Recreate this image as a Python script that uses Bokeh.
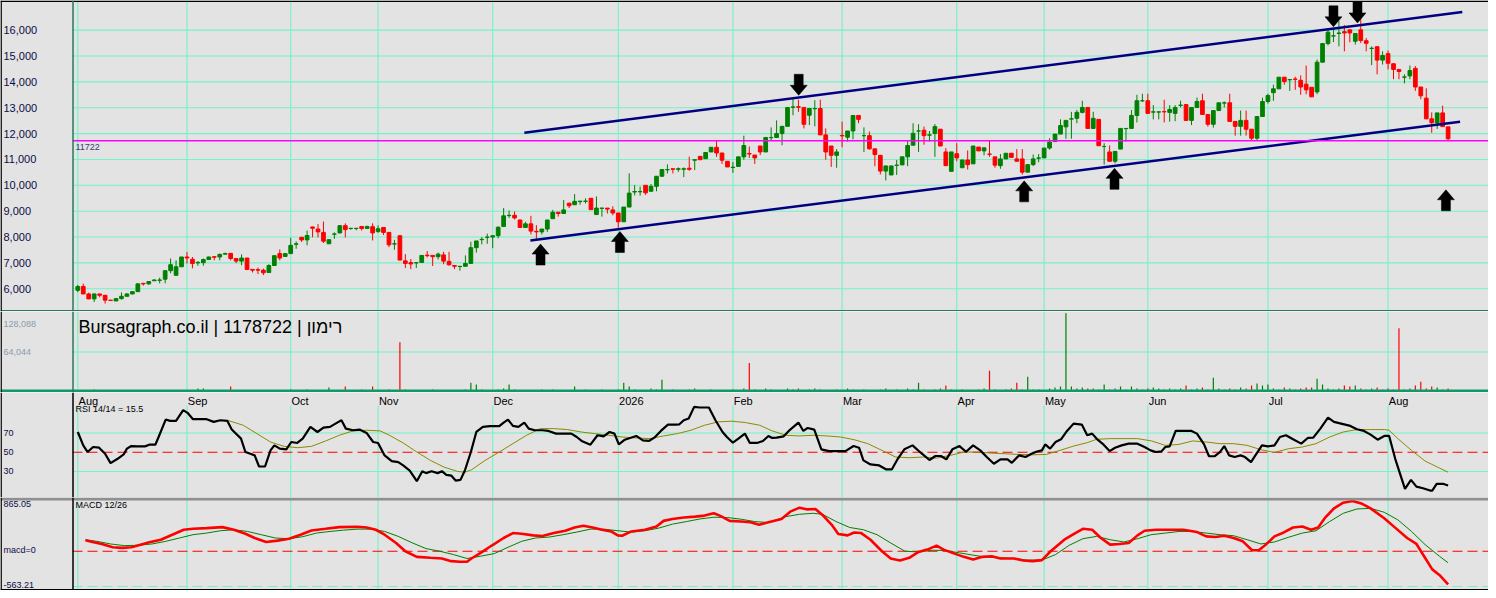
from bokeh.plotting import figure
from bokeh.layouts import column
from bokeh.models import Range1d, Span, Label, LabelSet, ColumnDataSource
from bokeh.core.properties import value
from bokeh.embed import file_html
from bokeh.resources import INLINE

# ------------------------------------------------------------------ data
opens = [
    5940, 6090, 5800, 5610, 5800, 5750, 5560, 5530, 5620, 5710,
    5800, 5890, 6210, 6190, 6310, 6330, 6370, 6700, 6520, 6850,
    7230, 7140, 7000, 7010, 7130, 7240, 7230, 7340, 7370, 7170,
    7070, 7190, 6750, 6740, 6720, 6630, 6900, 7360, 7250, 7360,
    7720, 7990, 7890, 8390, 8310, 8180, 7740, 8110, 8160, 8440,
    8330, 8330, 8410, 8330, 8400, 8210, 8370, 8180, 7730, 8050,
    7080, 7010, 7000, 7020, 7300, 7290, 7240, 7310, 7060, 6900,
    6860, 6870, 6980, 7590, 7900, 7990, 8000, 8050, 8410, 8830,
    8840, 8660, 8370, 8510, 8220, 8200, 8310, 8710, 8960, 8910,
    9310, 9250, 9370, 9380, 9500, 8870, 9110, 9120, 9050, 8930,
    8590, 9160, 9740, 9750, 10000, 9770, 9960, 10350, 10600, 10640,
    10620, 10620, 10660, 10970, 11120, 11030, 11290, 11470, 11250, 10930,
    10690, 10730, 11100, 11230, 11170, 11520, 11290, 11840, 11850, 12000,
    12280, 13020, 13040, 13010, 12710, 12960, 12970, 11950, 11520, 11160,
    11930, 11860, 12100, 12700, 11920, 11920, 11410, 11160, 10550, 10400,
    10770, 10790, 11100, 11550, 12100, 12130, 11940, 12000, 12170, 11290,
    10540, 11220, 10680, 10980, 10830, 11480, 11330, 11210, 11100, 10760,
    11020, 11240, 11020, 11020, 10510, 10800, 11050, 11060, 11440, 11690,
    11980, 12260, 12560, 12590, 12820, 13010, 12200, 12550, 11500, 11290,
    10930, 11400, 12190, 12200, 12700, 13270, 13270, 12830, 12830, 12850,
    12820, 12780, 13090, 13120, 12510, 13010, 13270, 12740, 12360, 12890,
    13180, 13190, 12470, 12280, 12510, 12170, 11820, 12660, 13240, 13580,
    13730, 14180, 14080, 14110, 14060, 13910, 13790, 13610, 14760, 15480,
    15770, 15870, 15940, 16010, 15570, 16010, 15590, 15290, 15360, 14840,
    15090, 14700, 14480, 14180, 14230, 14520, 13800, 13370, 12570, 12410,
    12800, 12260]
highs = [
    6150, 6200, 5850, 5820, 5810, 5760, 5560, 5640, 5860, 5830,
    5900, 6200, 6230, 6290, 6370, 6430, 6700, 7170, 7100, 7230,
    7420, 7230, 7070, 7170, 7240, 7250, 7360, 7400, 7380, 7180,
    7330, 7190, 6750, 6820, 6780, 6950, 7290, 7520, 7370, 7970,
    7830, 8010, 8250, 8400, 8500, 8600, 7910, 8180, 8460, 8530,
    8350, 8350, 8420, 8440, 8530, 8450, 8380, 8190, 7890, 8050,
    7340, 7150, 7010, 7290, 7460, 7290, 7400, 7430, 7430, 6910,
    6880, 7290, 7820, 7850, 8000, 8130, 8050, 8410, 9120, 9030,
    8990, 8660, 8590, 8820, 8460, 8310, 8660, 9050, 8960, 9430,
    9320, 9660, 9390, 9500, 9500, 9570, 9120, 9120, 9190, 8930,
    9160, 10460, 10010, 9950, 10000, 10050, 10350, 10610, 10810, 10640,
    10690, 10690, 11110, 10990, 11120, 11280, 11470, 11720, 11250, 10930,
    10900, 11100, 11920, 11500, 11170, 11520, 11850, 12240, 12510, 12280,
    13010, 13380, 13310, 13010, 12970, 13290, 13310, 12200, 11520, 11400,
    12460, 12100, 12700, 12700, 12240, 12080, 11410, 11160, 10750, 10750,
    10980, 11100, 11730, 12400, 12360, 12270, 12100, 12370, 12170, 11440,
    11290, 11630, 10980, 11350, 11520, 11480, 11450, 11720, 11100, 11210,
    11240, 11240, 11400, 11400, 10800, 11190, 11210, 11440, 11820, 11980,
    12550, 12510, 12840, 12910, 13270, 13010, 12840, 12550, 11630, 11540,
    11310, 12200, 12200, 12910, 13500, 13540, 13540, 13100, 12840, 13310,
    13100, 13100, 13270, 13120, 13010, 13390, 13540, 12740, 12890, 13190,
    13240, 13540, 12470, 12890, 12890, 12170, 12660, 13390, 13540, 13890,
    14180, 14180, 14100, 14200, 14250, 14630, 13790, 14860, 15480, 16010,
    16080, 16370, 16200, 16010, 15870, 16520, 15690, 15370, 15360, 15180,
    15210, 14700, 14480, 14290, 14630, 14610, 13800, 13750, 12820, 12800,
    13080, 12260]
lows = [
    5870, 5800, 5600, 5490, 5670, 5430, 5540, 5530, 5580, 5700,
    5790, 5880, 6120, 6150, 6300, 6210, 6210, 6600, 6520, 6850,
    6980, 6790, 6890, 6890, 7120, 7100, 7100, 7330, 7100, 6990,
    6910, 6720, 6630, 6570, 6530, 6620, 6880, 7100, 7240, 7360,
    7550, 7810, 7680, 7990, 7990, 7770, 7730, 7930, 8140, 7990,
    8280, 8260, 8250, 8310, 7870, 8170, 8080, 7610, 7510, 7110,
    6800, 6760, 6800, 7010, 7210, 6880, 7130, 6950, 6890, 6760,
    6700, 6870, 6980, 7400, 7720, 7740, 7570, 7950, 8410, 8740,
    8680, 8370, 8370, 8100, 7910, 8100, 8200, 8710, 8790, 8910,
    9120, 9250, 9250, 9300, 9060, 8870, 8790, 8910, 8840, 8360,
    8590, 9160, 9610, 9600, 9630, 9770, 9770, 10350, 10460, 10460,
    10520, 10320, 10560, 10590, 10990, 11030, 11290, 11100, 10830, 10710,
    10480, 10730, 10990, 11060, 10830, 11170, 11290, 11720, 11850, 11550,
    12280, 12710, 12840, 12200, 12330, 12280, 11950, 10990, 10710, 10680,
    11470, 11690, 11780, 12400, 11290, 11380, 10740, 10420, 10190, 10400,
    10400, 10790, 10740, 11550, 11290, 11570, 11690, 11100, 11520, 10760,
    10540, 10930, 10680, 10610, 10830, 11330, 11160, 11100, 10680, 10640,
    11020, 11080, 10930, 10420, 10510, 10740, 10890, 11060, 11380, 11690,
    11980, 11800, 11800, 12400, 12780, 12200, 12180, 11530, 10800, 10930,
    10850, 11400, 11690, 12200, 12430, 13220, 12780, 12550, 12550, 12430,
    12460, 12480, 13010, 12510, 12330, 13010, 12740, 12270, 12230, 12890,
    13010, 12470, 11920, 11920, 11920, 11750, 11750, 12660, 13160, 13270,
    13730, 13890, 13650, 13690, 13500, 13520, 13420, 13520, 14760, 15410,
    15540, 15370, 15180, 15530, 15440, 15500, 15180, 14650, 14290, 14670,
    14480, 14100, 14100, 13940, 14100, 13650, 13330, 12570, 12030, 12180,
    12270, 11720]
closes = [
    6090, 5800, 5610, 5800, 5750, 5560, 5550, 5620, 5710, 5800,
    5890, 6190, 6190, 6280, 6340, 6340, 6700, 6930, 6850, 7230,
    7190, 6980, 7020, 7130, 7230, 7220, 7330, 7360, 7170, 7070,
    7190, 6750, 6720, 6720, 6620, 6900, 7280, 7190, 7360, 7680,
    7740, 7890, 8060, 8340, 8200, 7840, 7900, 8120, 8440, 8290,
    8340, 8340, 8330, 8410, 8160, 8320, 8180, 7700, 7740, 7110,
    6980, 6960, 7010, 7290, 7280, 7240, 7340, 7070, 6930, 6870,
    6870, 6980, 7590, 7850, 7910, 8000, 8050, 8380, 8820, 8840,
    8740, 8370, 8510, 8230, 8200, 8310, 8660, 8960, 8910, 9050,
    9210, 9380, 9390, 9390, 9060, 9120, 9120, 9080, 8930, 8590,
    9160, 9700, 9760, 9760, 9710, 9960, 10350, 10610, 10610, 10620,
    10640, 10640, 10620, 10990, 10990, 11270, 11470, 11250, 10970, 10710,
    10700, 11100, 11540, 11210, 11060, 11290, 11850, 11850, 12000, 12280,
    13010, 13030, 13020, 12360, 12970, 12970, 11950, 11290, 11160, 11290,
    11910, 12100, 12700, 12550, 11920, 11410, 11190, 10550, 10750, 10750,
    10780, 11100, 11540, 12010, 12100, 11920, 11950, 12270, 11520, 10760,
    11290, 11060, 10980, 10800, 11520, 11330, 11450, 11200, 10780, 11020,
    11240, 11080, 10930, 10510, 10800, 11020, 11060, 11440, 11670, 11980,
    12310, 12510, 12570, 12820, 13010, 12200, 12590, 11530, 11500, 10930,
    11310, 12200, 12200, 12700, 13270, 13270, 12780, 12840, 12840, 12840,
    12930, 13010, 13100, 12510, 13010, 13240, 12740, 12360, 12890, 13190,
    13190, 12470, 12280, 12510, 12170, 11820, 12660, 13240, 13470, 13730,
    14180, 14010, 14090, 14100, 13800, 13690, 13420, 14760, 15480, 15920,
    15780, 15890, 15890, 15890, 15870, 15600, 15490, 15300, 14840, 15020,
    14720, 14480, 14400, 14190, 14440, 13800, 13460, 12570, 12420, 12800,
    12270, 11800]
volumes = [
    2400, 1600, 1200, 3200, 800, 1600, 400, 800, 1200, 1600, 800, 2400, 1600, 1200, 800, 1600, 2400, 1600, 800, 1600, 1200,
    1600, 4800, 4800, 1600, 800, 1200, 1600, 8000, 1600, 1200, 800, 1600, 2400, 1600, 1200, 1600, 2400, 1600, 3200, 1600,
    1600, 3200, 1600, 2400, 1600, 6400, 2400, 1600, 8000, 2400, 1600, 3200, 2400, 8000, 1600, 2400, 3200, 2400,
    80000,
    3200, 2400, 1600, 2400, 1600, 3200, 1600, 2400, 1600, 2400, 1600, 3200, 14400, 11200, 3200, 2400,
    2400, 3200, 4800, 11200, 3200, 2400, 1600, 2400, 1600, 3200, 2400, 3200, 1600, 2400, 1600, 8000, 2400, 3200, 2400, 1600, 3200, 2400, 1600, 3200,
    14400, 8000, 3200, 2400, 1600, 4800, 3200, 19200, 2400, 3200, 1600, 2400, 3200, 4800, 2400, 1600, 3200, 2400, 1600, 2400, 3200, 2400, 4800,
    46400,
    3200, 2400, 4800, 3200, 2400, 1600, 4800, 3200, 4800, 2400, 3200, 4800, 3200, 2400, 1600, 3200, 2400, 4800, 3200, 2400, 3200, 1600, 2400, 3200, 4800, 2400, 3200, 1600, 4800,
    3200, 14400, 3200, 2400, 3200, 4800, 9600, 3200, 2400, 3200, 1600, 2400, 3200, 4800, 33600, 3200, 2400, 3200, 4800, 14400, 3200, 24000, 3200, 3200, 1600, 4800, 6400, 8000,
    127000,
    8000, 4800, 6400, 4800, 4800, 3200, 11200, 3200, 4800, 8000, 3200, 8000, 4800, 3200, 4800, 6400, 4800, 3200, 4800, 3200, 4800, 9600, 3200, 4800, 6400, 3200, 22400, 4800, 3200,
    4800, 3200, 6400, 4800, 9600, 12800, 9600, 11200, 4800, 3200, 6400, 4800, 3200, 4800, 6400, 6400, 20800, 11200, 4800, 3200, 4800, 9600, 8000, 9600, 4800, 3200, 4800, 6400, 3200, 4800, 3200,
    102400, 3200, 4800, 9600, 16000, 4800, 8000, 6400, 3200, 4800]

month_bars = [0, 20, 39, 55, 76, 99, 120, 140, 161, 177, 196, 218, 240]
month_labels = ["Aug", "Sep", "Oct", "Nov", "Dec", "2026", "Feb", "Mar", "Apr",
                "May", "Jun", "Jul", "Aug"]
price_ticks = [6000, 7000, 8000, 9000, 10000, 11000, 12000, 13000, 14000, 15000, 16000]
price_tick_labels = ["6,000", "7,000", "8,000", "9,000", "10,000", "11,000",
                     "12,000", "13,000", "14,000", "15,000", "16,000"]
last_price = 11722
vol_ticks = [64044, 128088]
vol_tick_labels = ["64,044", "128,088"]
rsi_grid = [30, 70]
rsi_ticks = [30, 50, 70]
macd_max, macd_min = 865.05, -563.21

# RSI 14 (black) read at picture vertices: bar position, value
rsi_x = [0.0, 1.0, 1.8, 2.8, 3.9, 5.0, 6.0, 7.3, 8.4, 9.0, 9.8, 11.0, 12.3, 13.1, 14.2, 14.8,
         16.1, 16.9, 18.0, 19.3, 20.1, 21.1, 23.6, 24.9, 26.1, 27.4, 28.2, 29.9, 30.7, 31.6,
         32.4, 33.2, 34.3, 35.3, 36.0, 37.0, 38.2, 39.1, 40.2, 41.2, 42.6, 43.9, 45.0, 46.2,
         47.2, 48.3, 49.1, 50.4, 51.6, 52.9, 54.1, 55.0, 56.2, 57.5, 58.7, 59.6, 60.8, 62.1,
         63.1, 63.8, 64.8, 65.9, 66.7, 67.5, 68.4, 69.2, 70.1, 70.9, 72.0, 73.0, 74.2, 75.5,
         77.2, 78.0, 78.8, 79.7, 80.7, 81.8, 82.6, 83.7, 85.1, 86.2, 87.6, 89.0, 90.4, 91.4,
         92.4, 93.9, 95.2, 96.3, 97.4, 98.3, 99.1, 100.2, 101.3, 102.3, 103.5, 104.6, 105.6,
         106.8, 108.1, 109.4, 110.2, 111.0, 111.9, 112.9, 113.9, 115.6, 116.8, 118.1, 118.9,
         120.0, 121.0, 122.2, 123.1, 124.4, 125.5, 126.5, 127.2, 128.0, 129.3, 130.5, 132.0,
         132.9, 133.7, 134.9, 136.2, 137.6, 138.9, 140.6, 142.1, 143.1, 143.9, 145.2, 146.8,
         148.1, 149.1, 150.2, 151.4, 152.9, 154.4, 156.0, 157.1, 158.1, 159.1, 160.2, 161.5,
         162.7, 164.0, 165.3, 166.5, 167.8, 169.0, 170.3, 171.1, 172.4, 173.6, 174.7, 175.7,
         176.6, 177.2, 178.1, 179.1, 180.1, 181.2, 182.4, 183.9, 184.9, 185.8, 186.8, 187.9,
         189.0, 190.0, 191.2, 192.5, 194.1, 195.4, 196.5, 197.5, 198.5, 199.2, 200.0, 201.1,
         202.5, 204.0, 205.0, 206.3, 207.2, 208.2, 209.2, 210.0, 210.9, 211.9, 213.0, 213.8,
         214.9, 215.7, 216.9, 218.0, 219.2, 220.2, 221.3, 222.6, 224.1, 225.3, 226.3, 227.6,
         229.0, 230.1, 231.4, 233.1, 234.3, 235.6, 236.8, 238.1, 239.3, 240.2, 241.4, 243.1,
         244.2, 245.2, 246.4, 247.7, 248.1, 248.9, 250.2, 251.0]
rsi_v = [71.0, 57.1, 50.2, 55.4, 54.7, 48.4, 38.7, 43.2, 47.7, 53.7, 56.4, 56.1, 56.1, 57.8, 57.8, 65.8,
         83.9, 82.5, 82.5, 93.7, 90.9, 84.3, 84.3, 81.5, 83.2, 82.5, 73.5, 64.1, 50.2, 48.4,
         46.7, 35.2, 35.2, 51.9, 57.1, 53.7, 53.0, 60.6, 59.6, 64.1, 76.3, 71.0, 75.6, 76.3,
         79.7, 83.2, 74.5, 72.8, 73.5, 70.0, 60.6, 59.6, 46.7, 40.8, 39.7, 36.3, 31.0, 19.9,
         30.3, 28.3, 30.3, 28.3, 30.3, 26.5, 25.8, 20.6, 21.3, 31.0, 50.2, 71.0, 76.3, 77.0,
         77.0, 80.8, 83.9, 77.3, 76.3, 80.8, 74.5, 72.8, 72.8, 72.1, 69.3, 69.3, 69.3, 65.8,
         61.3, 57.8, 67.6, 66.5, 71.0, 69.3, 58.1, 63.0, 65.1, 66.9, 62.3, 61.7, 65.1,
         72.1, 78.7, 78.7, 79.0, 83.2, 85.0, 97.1, 96.4, 96.4, 83.2, 71.0, 65.8,
         59.9, 64.1, 69.3, 59.6, 59.6, 61.7, 66.9, 64.8, 65.1, 66.5, 73.5, 80.8,
         72.1, 75.2, 73.5, 53.0, 51.2, 51.2, 51.2, 56.4, 54.7, 41.5, 37.3, 36.3,
         32.1, 32.1, 43.2, 53.0, 57.1, 49.5, 41.9, 46.1, 46.1, 42.6, 53.0, 56.4,
         50.5, 57.1, 51.9, 45.0, 38.0, 42.6, 42.6, 39.0, 46.7, 45.0, 48.4, 50.8,
         51.9, 58.1, 53.7, 60.6, 63.4, 72.1, 79.7, 78.7, 67.6, 69.3, 63.0, 57.8,
         51.2, 54.7, 57.1, 58.9, 58.9, 55.4, 51.9, 50.2, 50.9, 55.4, 56.1, 72.1,
         72.1, 72.1, 69.3, 58.1, 45.8, 45.8, 50.2, 56.4, 46.7, 45.0, 46.7, 45.0,
         39.7, 46.7, 57.1, 56.1, 57.1, 65.8, 67.6, 63.4, 58.9, 64.8, 65.1, 74.5,
         86.0, 81.5, 79.7, 77.3, 73.8, 72.1, 68.3, 63.0, 66.9, 66.9, 41.5, 11.9,
         21.3, 14.3, 12.6, 10.2, 10.2, 17.1, 17.1, 15.5]
# RSI average (olive)
rsi_avg_x = [27.4, 30.3, 32.8, 35.3, 37.8, 40.3, 42.8, 45.4, 47.9, 50.4, 52.9, 55.4, 57.1, 59.6,
             62.1, 64.6, 67.1, 69.6, 70.9, 72.1, 74.6, 77.2, 79.7, 82.2, 84.7, 87.2, 89.7, 92.2,
             94.7, 97.2, 99.7, 102.3, 104.8, 107.3, 109.8, 112.3, 114.8, 117.3, 119.8, 122.3,
             124.9, 127.2, 129.7, 132.2, 134.7, 137.2, 139.7, 142.2, 144.7, 147.3, 149.8, 152.3,
             154.8, 157.3, 159.8, 162.3, 164.8, 167.3, 169.9, 172.4, 174.9, 177.4, 179.9, 182.4,
             184.9, 186.6, 189.1, 191.6, 194.1, 196.7, 199.2, 201.7, 204.2, 206.7, 209.2, 211.7,
             214.2, 216.7, 219.2, 221.8, 224.3, 226.8, 229.3, 231.8, 234.3, 236.8, 239.3, 240.2,
             241.8, 244.3, 246.8, 249.3, 251.0]
rsi_avg_v = [83.2, 78.0, 69.3, 60.6, 56.1, 54.7, 56.1, 61.7, 67.6, 72.1, 72.8, 72.1, 67.6, 59.6,
             50.2, 41.5, 34.5, 30.0, 29.3, 31.7, 41.5, 50.2, 58.9, 67.6, 74.5, 74.5, 73.5, 71.0,
             69.3, 67.6, 65.8, 64.8, 64.1, 66.9, 69.3, 72.8, 78.0, 81.5, 82.2, 80.8,
             78.0, 72.1, 67.6, 66.9, 67.6, 66.9, 65.8, 63.0, 58.9, 51.9, 45.0, 44.3,
             45.0, 43.9, 46.7, 50.2, 50.2, 49.1, 48.4, 47.7, 47.3, 47.7, 51.9, 56.4,
             59.9, 63.4, 64.1, 64.1, 64.1, 61.7, 57.1, 58.1, 61.7, 60.6, 58.9, 58.9,
             57.1, 52.6, 49.8, 53.7, 55.4, 58.9, 65.8, 71.0, 73.5, 73.5, 73.5, 72.8,
             64.1, 51.9, 40.8, 33.9, 29.3]
# MACD 12/26 (red) and its signal (green)
macd_x = [1.4, 2.7, 4.4, 6.4, 8.1, 9.8, 11.5, 13.1, 15.2, 17.3, 19.4, 21.1, 23.6, 26.5, 28.6,
          30.7, 32.4, 34.5, 36.6, 38.7, 40.8, 42.8, 45.4, 47.9, 51.2, 52.9, 54.6, 56.2, 58.3,
          60.0, 62.1, 64.6, 66.7, 68.4, 70.0, 71.3, 72.1, 73.8, 75.9, 78.0, 79.7, 81.3, 83.4,
          85.1, 87.2, 89.3, 91.0, 92.6, 94.3, 96.0, 97.7, 98.9, 99.7, 101.4, 103.9, 106.0,
          107.3, 108.9, 111.0, 113.1, 114.8, 116.5, 117.7, 119.4, 121.5, 123.2, 124.8, 126.5,
          128.9, 130.5, 132.2, 133.5, 135.1, 136.4, 138.1, 139.3, 141.0, 142.2, 143.5, 145.2,
          147.3, 148.9, 150.6, 152.3, 154.0, 155.6, 157.3, 158.6, 160.2, 162.3, 164.0, 165.7,
          167.4, 169.0, 171.5, 173.2, 174.9, 176.6, 178.2, 180.7, 182.4, 184.1, 185.8, 187.4,
          189.1, 190.8, 192.5, 194.1, 195.4, 197.5, 200.0, 202.5, 205.0, 206.7, 208.4, 210.0,
          211.7, 213.4, 215.1, 216.3, 217.6, 219.2, 220.9, 222.6, 224.3, 225.9, 227.2, 228.4,
          230.1, 231.8, 233.5, 235.1, 236.8, 239.3, 241.4, 243.5, 245.2, 246.4, 248.1, 249.4,
          251.0]
macd_v = [174, 148, 116, 63, 53, 63, 105, 142, 184, 264, 343, 358, 369, 385, 343,
          279, 211, 148, 169, 200, 264, 332, 358, 385, 390, 379, 343, 264, 132,
          0, -90, -105, -116, -158, -169, -169, -116, -26, 95, 211, 290, 279, 253,
          242, 290, 327, 379, 406, 379, 343, 316, 253, 248, 316, 343, 395,
          485, 516, 538, 553, 569, 606, 564, 485, 474, 464, 422, 464,
          516, 632, 696, 669, 675, 580, 422, 274, 253, 300, 290, 184,
          0, -116, -148, -105, -11, 26, 90, 26, -26, -90, -132, -90,
          -79, -116, -116, -148, -158, -142, 0, 184, 274, 358, 343, 211,
          105, 116, 132, 253, 327, 343, 343, 343, 306, 237, 227, 248,
          211, 158, 16, 16, 105, 237, 300, 379, 395, 343, 379, 527,
          685, 775, 801, 764, 685, 527, 369, 211, 116, -53, -290, -379,
          -530]
signal_x = [1.4, 3.5, 6.0, 8.5, 11.0, 13.6, 16.1, 18.6, 21.1, 23.6, 26.1, 28.6, 31.1, 33.6,
            36.2, 38.7, 41.2, 43.7, 46.2, 48.7, 51.2, 53.7, 56.2, 58.7, 61.3, 63.8, 66.3,
            68.8, 71.3, 73.8, 76.3, 78.8, 81.3, 83.8, 86.4, 88.9, 91.4, 93.9, 96.4, 98.9,
            101.4, 103.9, 106.4, 108.9, 111.5, 114.0, 116.5, 119.0, 121.5, 124.0, 126.5,
            129.7, 132.2, 134.7, 136.4, 138.9, 141.4, 143.9, 146.4, 148.9, 151.5, 154.0,
            156.5, 159.0, 161.5, 164.0, 166.5, 169.0, 171.5, 174.0, 176.6, 179.1, 181.6,
            184.1, 186.6, 189.1, 191.6, 194.1, 196.6, 199.2, 201.7, 204.2, 206.7, 209.2,
            211.7, 214.2, 216.7, 219.2, 221.7, 224.3, 226.8, 229.3, 231.8, 234.3, 236.8,
            239.3, 241.8, 244.3, 246.8, 249.4, 251.0]
signal_v = [184, 158, 116, 90, 95, 116, 158, 211, 264, 290, 327, 343, 316, 264,
            211, 200, 232, 290, 316, 337, 353, 353, 316, 237, 132, 42, 0,
            -53, -116, -79, -37, 63, 158, 211, 227, 264, 306, 353, 353, 327,
            306, 327, 369, 432, 474, 516, 543, 538, 511, 474, 458,
            553, 590, 606, 590, 474, 379, 343, 264, 132, 0, -11,
            16, 11, -26, -63, -95, -105, -116, -142, -142, -53, 95,
            200, 237, 184, 148, 200, 264, 290, 316, 316, 290, 264,
            248, 184, 116, 148, 221, 290, 327, 474, 606, 675, 685,
            622, 501, 316, 105, -79, -184]

# trend channel (navy) and marker arrows
upper_x, upper_y = [81.8, 253.6], [12030, 16700]
lower_x, lower_y = [82.9, 253.2], [7870, 12460]
down_arrow_x, down_arrow_tip = [132.05, 230.0, 234.4], [13481, 16126, 16279]
up_arrow_x, up_arrow_tip = [84.76, 99.3, 173.35, 189.9, 250.6], [7729, 8214, 10172, 10656, 9828]

# ------------------------------------------------------------------ layout / style
W = 1488
LB = 72                     # gutter width (px)
X0, X1 = -0.97, 258.4       # plot area in bar units
BPX = (X1 - X0) / (W - LB)  # bars per screen pixel
XG = X0 - LB * BPX          # left edge of the figure (gutter start)
LX = XG + 3 * BPX           # x of gutter texts
BG = "#e3e3e3"
GRID = "#74f2c8"
FONT = "Liberation Sans"
TXT = "#0c0c48"
DKGREEN = "#2a7a5a"
H_PRICE, H_VOL, H_RSI, H_MACD = 311, 81, 105, 93
RSI_TOP = 13
PY = (5122, 17145)
VY = (-1600, 129700)
RY = (3.0, 98.5)
MY = (-627, 858)

xr = Range1d(XG, X1)


def ypx(rng, fh):
    return (rng[1] - rng[0]) / fh


def panel(h, y0, y1):
    f = figure(width=W, height=h, x_range=xr, y_range=Range1d(y0, y1), output_backend="svg",
               toolbar_location=None, x_axis_location=None, y_axis_location=None,
               min_border=0, background_fill_color=BG, border_fill_color=BG,
               outline_line_color=None)
    f.grid.visible = False
    return f


def vgrid(f, y0, y1):
    n = len(month_bars)
    f.segment(x0=month_bars, y0=[y0] * n, x1=month_bars, y1=[y1] * n,
              line_color=GRID, line_width=1.1)


def hgrid(f, ticks, dash="solid", color=GRID):
    n = len(ticks)
    f.segment(x0=[X0] * n, y0=ticks, x1=[X1] * n, y1=ticks, line_color=color,
              line_width=1.1, line_dash=dash)


def frame_edges(f, y0, y1, left_color, px):
    f.add_layout(Span(location=X0 + 0.5 * BPX, dimension="height", line_color=left_color,
                      line_width=1.5))
    f.add_layout(Span(location=XG + 0.6 * BPX, dimension="height", line_color="black",
                      line_width=1.5))


def gutter_labels(f, ys, texts, color, size="9px"):
    src = ColumnDataSource(dict(x=[LX] * len(ys), y=ys, t=texts))
    f.add_layout(LabelSet(x="x", y="y", text="t", source=src, text_align="left",
                          text_baseline="middle", text_font=value(FONT),
                          text_font_size=value(size), text_color=color))


# ---------------- price panel
pp = panel(H_PRICE, *PY)
ppx = ypx(PY, H_PRICE)
vgrid(pp, PY[0], PY[1])
hgrid(pp, price_ticks)
idx = list(range(len(closes)))
cols = ["#008000" if c >= o else "#ff0000" for o, c in zip(opens, closes)]
csrc = ColumnDataSource(dict(x=idx, h=highs, l=lows,
                             top=[max(o, c) for o, c in zip(opens, closes)],
                             bot=[min(o, c) for o, c in zip(opens, closes)], col=cols))
pp.segment(x0="x", y0="l", x1="x", y1="h", line_color="col", line_width=1, source=csrc)
pp.vbar(x="x", width=0.68, top="top", bottom="bot", fill_color="col", line_color="col",
        line_width=1, source=csrc)
pp.line(upper_x, upper_y, line_color="#000080", line_width=2.5)
pp.line(lower_x, lower_y, line_color="#000080", line_width=2.5)
pp.segment(x0=[X0], y0=[last_price], x1=[X1], y1=[last_price], line_color="#ff00ff",
           line_width=1.5)
pp.add_layout(Label(x=X0 + 3 * BPX, y=last_price - 6 * ppx, text=str(last_price),
                    text_font=FONT, text_font_size="9px", text_baseline="middle",
                    text_color="#3a3a7a"))
pp.add_layout(Span(location=PY[0] + 0.7 * ppx, dimension="width", line_color=DKGREEN,
                   line_width=1.5))
pp.add_layout(Span(location=PY[1] - 0.8 * ppx, dimension="width", line_color="black",
                   line_width=1.6))


def arrows(xs, tips, up):
    s = -1 if up else 1
    pxs, pys = [], []
    for x, t in zip(xs, tips):
        dx = BPX
        hy = t + s * 10 * ppx
        ey = t + s * 21 * ppx
        pxs.append([x, x + 8.5 * dx, x + 4.5 * dx, x + 4.5 * dx, x - 4.5 * dx, x - 4.5 * dx, x - 8.5 * dx])
        pys.append([t, hy, hy, ey, ey, hy, hy])
    return pxs, pys


for xs, tips, up in [(down_arrow_x, down_arrow_tip, False), (up_arrow_x, up_arrow_tip, True)]:
    axs, ays = arrows(xs, tips, up)
    pp.patches(axs, ays, fill_color="black", line_color="black", line_width=0.5)

frame_edges(pp, PY[0], PY[1], DKGREEN, ppx)
gutter_labels(pp, price_ticks, price_tick_labels, TXT, "11px")

# ---------------- volume panel
vp = panel(H_VOL, *VY)
vpx = ypx(VY, H_VOL)
vgrid(vp, VY[0], VY[1])
hgrid(vp, [vol_ticks[0]])
vsrc = ColumnDataSource(dict(x=idx, v=volumes, col=cols))
vp.segment(x0="x", y0=0, x1="x", y1="v", line_color="col", line_width=1.2, source=vsrc)
vp.add_layout(Span(location=VY[0] + 1.5 * vpx, dimension="width", line_color="#109a68",
                   line_width=3))
vp.add_layout(Label(x=X0 + 6 * BPX, y=VY[1] - 15 * vpx, text="Bursagraph.co.il | 1178722 | רימון",
                    text_font=FONT, text_font_size="18px", text_baseline="middle",
                    text_color="black"))
frame_edges(vp, VY[0], VY[1], DKGREEN, vpx)
gutter_labels(vp, [vol_ticks[0], vol_ticks[1] - 12 * vpx], vol_tick_labels, "#8c9bab")

# ---------------- RSI panel (top strip holds the month names)
rpx = (RY[1] - RY[0]) / (H_RSI - RSI_TOP)
rp = panel(H_RSI, RY[0], RY[1] + RSI_TOP * rpx)
vgrid(rp, RY[0], RY[1])
hgrid(rp, rsi_grid)
hgrid(rp, [50], dash="10 5", color="#ff0000")
rp.line(rsi_avg_x, rsi_avg_v, line_color="#8a8a00", line_width=1)
rp.line(rsi_x, rsi_v, line_color="black", line_width=2.2)
msrc = ColumnDataSource(dict(x=[b + 0.15 for b in month_bars],
                             y=[RY[1] + 5 * rpx] * len(month_bars), t=month_labels))
rp.add_layout(LabelSet(x="x", y="y", text="t", source=msrc, text_align="left",
                       text_baseline="middle", text_font=value(FONT),
                       text_font_size=value("11px"), text_color="black"))
rp.add_layout(Label(x=X0 + 3 * BPX, y=RY[1] - 3.5 * rpx, text="RSI 14/14 = 15.5",
                    text_font=FONT, text_font_size="9px", text_baseline="middle",
                    text_color="black"))
frame_edges(rp, RY[0], RY[1], "black", rpx)
gutter_labels(rp, rsi_ticks, [str(t) for t in rsi_ticks], TXT)

# ---------------- MACD panel
mp = panel(H_MACD, *MY)
mpx = ypx(MY, H_MACD)
vgrid(mp, MY[0], MY[1])
hgrid(mp, [0], dash="10 5", color="#ff0000")
hgrid(mp, [macd_min], dash="10 5")
mp.line(signal_x, signal_v, line_color="#008000", line_width=1)
mp.line(macd_x, macd_v, line_color="#ff0000", line_width=2.6)
mp.add_layout(Span(location=MY[1] - 1.5 * mpx, dimension="width", line_color="#8f8f8f",
                   line_width=3))
mp.add_layout(Span(location=MY[0] + 0.8 * mpx, dimension="width", line_color="black",
                   line_width=1.6))
mp.add_layout(Label(x=X0 + 3 * BPX, y=MY[1] - 7 * mpx, text="MACD 12/26",
                    text_font=FONT, text_font_size="9px", text_baseline="middle",
                    text_color="black"))
frame_edges(mp, MY[0], MY[1], "black", mpx)
gutter_labels(mp, [MY[1] - 6 * mpx, 1.5 * mpx, macd_min + 2 * mpx],
              ["%.2f" % macd_max, "macd=0", "%.2f" % macd_min], TXT)

layout = column(pp, vp, rp, mp, spacing=0)
open("out.html", "w").write(file_html(layout, INLINE))
